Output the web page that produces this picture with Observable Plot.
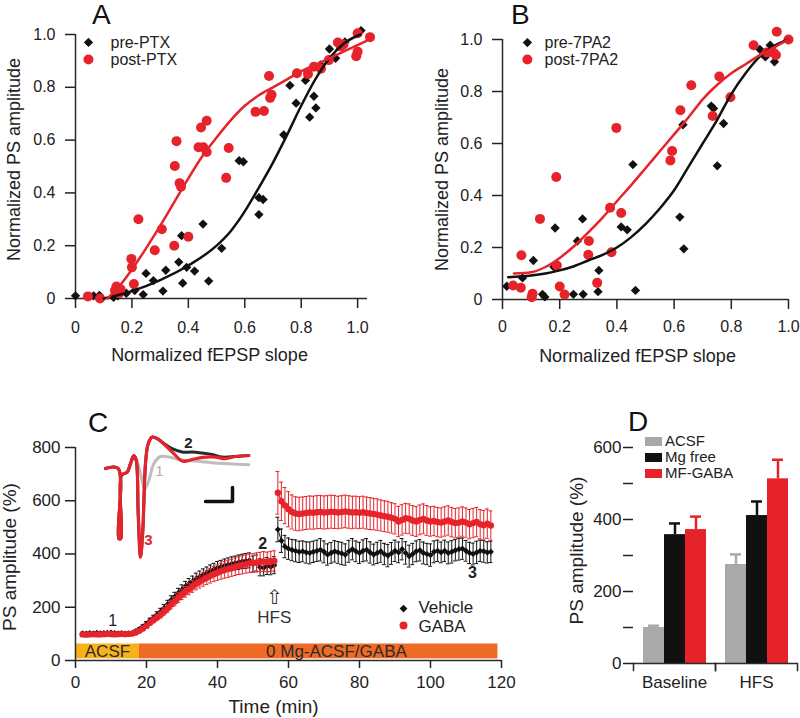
<!DOCTYPE html>
<html><head><meta charset="utf-8">
<script src="https://cdn.jsdelivr.net/npm/d3@7"></script>
<script src="https://cdn.jsdelivr.net/npm/@observablehq/plot@0.6"></script>
<style>
body{margin:0;background:#fff;}
#fig{position:relative;width:800px;height:718px;font-family:"Liberation Sans",Arial,Helvetica,sans-serif;color:#111;overflow:hidden;background:#fff}
.panel{position:absolute}
.letter{position:absolute;font-size:28px;line-height:28px;color:#111}
.leg{position:absolute;font-size:15px;line-height:14px;color:#222;white-space:nowrap}
.sw{position:absolute;width:17px;height:9px}
</style></head><body><div id="fig"></div>
<script>
const FONT = '"Liberation Sans", Arial, Helvetica, sans-serif';
const RED = "#E6232B", BLACK = "#111111", GRAY = "#A9A9A9", AX = "#2a2a2a", TXT = "#222";

// ---------- Panel A data ----------
const aPreSlope = [0.0,0.064,0.085,0.135,0.15,0.18,0.21,0.24,0.25,0.276,0.31,0.32,0.366,0.376,0.38,0.394,0.422,0.452,0.472,0.518,0.58,0.595,0.65,0.65,0.665,0.738,0.76,0.782,0.815,0.83,0.845,0.852,0.868,0.9,0.922,0.955,1.012];
const aPreAmp   = [0.01,0.01,0.012,0.004,0.01,0.02,0.03,0.015,0.095,0.068,0.028,0.107,0.138,0.238,0.058,0.118,0.104,0.282,0.066,0.19,0.522,0.518,0.318,0.382,0.375,0.62,0.807,0.74,0.826,0.687,0.766,0.722,0.885,0.945,0.91,0.972,1.015];
const aPostSlope = [0.044,0.087,0.14,0.145,0.155,0.16,0.198,0.2,0.207,0.223,0.281,0.306,0.35,0.352,0.358,0.369,0.374,0.4,0.436,0.445,0.453,0.465,0.465,0.534,0.543,0.638,0.668,0.686,0.69,0.695,0.785,0.824,0.845,0.87,0.898,0.93,0.94,0.95,0.995,1.0,1.0,1.044];
const aPostAmp   = [0.008,0.0,0.03,0.045,0.02,0.035,0.15,0.118,0.055,0.3,0.183,0.262,0.2,0.502,0.596,0.437,0.423,0.234,0.573,0.648,0.573,0.673,0.555,0.457,0.57,0.707,0.71,0.843,0.76,0.772,0.853,0.85,0.878,0.87,0.903,0.97,0.955,0.962,0.918,0.935,1.005,0.99];
const aFitPreX  = [0.1,0.2,0.3,0.4,0.5,0.55,0.6,0.65,0.7,0.75,0.8,0.85,0.9,0.95,1.01];
const aFitPreY  = [0.0,0.028,0.07,0.125,0.2,0.255,0.33,0.42,0.515,0.62,0.73,0.83,0.91,0.965,1.0];
const aFitPostX = [0.113,0.15,0.2,0.25,0.3,0.35,0.4,0.45,0.5,0.55,0.6,0.65,0.7,0.75,0.8,0.85,0.9,0.95,1.0,1.038];
const aFitPostY = [0.0,0.04,0.11,0.19,0.275,0.365,0.455,0.54,0.61,0.675,0.73,0.77,0.8,0.83,0.86,0.885,0.91,0.935,0.96,0.98];
const aLegend = ["pre-PTX","post-PTX"];

// ---------- Panel B data ----------
const bPreSlope = [0.015,0.07,0.108,0.14,0.148,0.18,0.184,0.248,0.262,0.28,0.282,0.334,0.337,0.415,0.436,0.456,0.465,0.62,0.631,0.634,0.73,0.738,0.751,0.773,0.9,0.919,0.936,0.951];
const bPreAmp   = [0.051,0.083,0.15,0.02,0.01,0.125,0.275,0.02,0.225,0.31,0.02,0.03,0.112,0.279,0.268,0.519,0.035,0.317,0.672,0.195,0.744,0.735,0.514,0.677,0.962,0.933,0.978,0.914];
const bPostSlope = [0.037,0.064,0.066,0.102,0.105,0.131,0.188,0.19,0.2,0.217,0.3,0.302,0.331,0.376,0.381,0.398,0.415,0.587,0.593,0.622,0.66,0.735,0.758,0.797,0.878,0.924,0.948,0.956,0.959,1.0];
const bPostAmp   = [0.054,0.045,0.17,0.009,0.022,0.31,0.471,0.131,0.05,0.019,0.172,0.225,0.064,0.353,0.182,0.66,0.333,0.535,0.571,0.728,0.824,0.706,0.858,0.778,0.978,0.95,0.949,0.94,1.03,1.0];
const bFitPreX  = [0.02,0.1,0.15,0.2,0.25,0.3,0.35,0.4,0.45,0.5,0.55,0.6,0.65,0.7,0.75,0.8,0.85,0.9,0.95,1.0];
const bFitPreY  = [0.086,0.092,0.1,0.112,0.128,0.15,0.172,0.2,0.24,0.29,0.35,0.42,0.51,0.6,0.69,0.79,0.87,0.935,0.975,1.0];
const bFitPostX = [0.04,0.1,0.15,0.2,0.25,0.3,0.35,0.4,0.45,0.5,0.55,0.6,0.65,0.7,0.75,0.8,0.85,0.9,0.95,1.0];
const bFitPostY = [0.1,0.105,0.125,0.16,0.205,0.258,0.315,0.378,0.44,0.505,0.57,0.635,0.7,0.77,0.825,0.87,0.905,0.94,0.97,1.0];
const bLegend = ["pre-7PA2","post-7PA2"];

const normTicks = [0,0.2,0.4,0.6,0.8,1.0];

// ---------- Panel C data ----------
const cTimePre = [2,3,4,5,6,7,8,9,10,11,12,13,14,15,16,17,18,19,20,21,22,23,24,25,26,27,28,29,30,31,32,33,34,35,36,37,38,39,40,41,42,43,44,45,46,47,48,49,50,51,52,53,54,55,56];
const cVehPre = [102,101,103,102,104,102,103,104,105,103, 102,103,101,102,103,110,118,127,138,150, 160,172,184,197,212,228,240,254,266,278, 288,297,307,315,322,329,336,342,348,352, 356,360,363,366,369,372,374,376,362,366, 350,348,355,352,358];
const cVehPreErr = [4,4,4,4,4,4,4,4,4,4, 4,4,4,4,4,5,6,7,8,9, 10,11,12,13,14,15,16,17,18,19, 20,20,21,21,22,22,23,23,24,24, 25,25,26,26,27,27,28,28,30,30, 32,30,32,30,32];
const cGabaPre = [98,97,98,99,98,98,99,100,99,98, 99,100,99,100,101,105,112,120,130,142, 152,162,172,184,196,210,222,236,248,258, 268,278,288,296,304,311,318,324,330,335, 340,344,348,352,356,359,362,365,366,368, 370,372,370,372,374];
const cGabaPreErr = [5,5,5,5,5,5,5,5,5,5, 5,5,5,5,5,6,7,8,9,10, 11,12,13,14,15,16,17,18,19,20, 21,22,23,24,25,26,27,28,29,30, 31,32,32,33,33,34,34,35,35,36, 36,37,37,38,38];
const cTimePost = [57,58,59,60,61,62,63,64,65,66,67,68,69,70,71,72,73,74,75,76,77,78,79,80,81,82,83,84,85,86,87,88,89,90,91,92,93,94,95,96,97,98,99,100,101,102,103,104,105,106,107,108,109,110,111,112,113,114,115,116,117];
const cVehPost = [492,450,428,420,415,412,408,410,406,404, 408,412,416,408,398,404,410,406,402,398, 410,418,410,404,412,416,406,398,404,410, 400,394,402,412,406,418,404,392,400,410, 414,404,400,396,408,412,406,412,404,408, 414,418,420,412,404,400,406,412,410,406, 408];
const cVehPostErr = [46,44,42,40,40,41,40,39,40,41, 40,40,42,41,40,39,40,41,42,40, 41,40,39,40,41,42,40,39,40,41, 40,42,41,40,39,40,42,41,40,39, 40,41,40,42,41,40,39,40,41,42, 40,41,40,39,40,41,42,40,41,40, 40];
const cGabaPost = [630,598,582,568,558,552,550,552,554,556, 555,557,558,556,557,559,558,556,558,560, 558,556,557,555,557,554,552,550,548,545, 542,540,536,532,522,528,534,532,526,522, 528,532,526,522,524,520,518,522,526,520, 516,518,522,518,512,516,520,512,508,514, 507];
const cGabaPostErr = [80,72,68,66,64,63,63,62,62,62, 62,62,62,62,62,62,62,61,61,61, 61,61,60,60,60,60,60,59,59,58, 58,58,57,57,57,57,56,56,56,56, 56,56,56,55,55,55,55,55,55,55, 55,55,55,55,55,55,55,55,55,55, 55];
const cProtocolStart = [0, 18];
const cProtocolEnd = [18, 119];
const cProtocolLabel = ["ACSF", "0 Mg-ACSF/GABA"];
const cProtocolLabelT = [9, 73.5];
const cProtocolColor = ["#F7B21B", "#EE6A25"];
const cLegend = ["Vehicle", "GABA"];

// inset traces (time ms, voltage mV)
const trT1 = [0,1.27,1.33,1.53,1.6,2.17,2.5,2.83,3.0,3.5,3.93,4.33,4.83,5.5,6.33,7.67,9.0,10.67,12.33,14.33];
const trV1 = [0,0,-3.5,-3.5,-0.35,-0.18,0.24,0.6,0.57,-0.25,-1.02,-0.6,0.24,0.6,0.57,0.43,0.37,0.29,0.24,0.19];
const trT2 = [0,1.27,1.33,1.53,1.6,2.17,2.5,2.83,3.07,3.27,3.5,3.73,4.0,4.27,4.67,5.17,6.0,6.67,7.67,8.67,9.67,10.67,11.67,13.0,14.33];
const trV2 = [0,0,-3.5,-3.5,-0.35,-0.18,0.24,0.65,0.4,-2.25,-4.43,-3.1,0.24,1.24,1.57,1.49,1.2,0.99,0.82,0.82,0.77,0.7,0.57,0.6,0.65];
const trT3 = [0,1.27,1.33,1.53,1.6,2.17,2.5,2.83,3.07,3.27,3.5,3.73,4.0,4.27,4.67,5.17,6.0,6.83,7.67,8.33,9.0,10.0,11.0,12.0,13.0,14.33];
const trV3 = [0,0,-3.5,-3.5,-0.35,-0.18,0.24,0.65,0.4,-2.25,-4.43,-3.1,0.24,1.24,1.57,1.49,1.15,0.74,0.37,0.4,0.49,0.57,0.57,0.49,0.6,0.65];
const scaleBarT = [10.0, 12.7, 12.7];
const scaleBarV = [-1.65, -1.65, -0.95];

// ---------- Panel D data ----------
const dGroups = ["Baseline", "HFS"];
const dSeries = ["ACSF", "Mg free", "MF-GABA"];
const dColors = [GRAY, BLACK, RED];
const dBaseline = [100, 358, 372];
const dBaselineErr = [5, 31, 36];
const dHFS = [275, 411, 513];
const dHFSErr = [28, 39, 53];

// ---------- helpers ----------
const zip = (xs, ys) => xs.map((x, i) => ({x, y: ys[i]}));
const series = (ts, vs, es) => ts.map((t, i) => ({t, v: vs[i], e: es[i]}));
const root = document.getElementById("fig");
function place(node, left, top) {
  const d = document.createElement("div");
  d.className = "panel"; d.style.left = left + "px"; d.style.top = top + "px";
  d.appendChild(node); root.appendChild(d); return d;
}
function html(cls, text, left, top, extra) {
  const d = document.createElement("div");
  d.className = cls; d.textContent = text;
  d.style.left = left + "px"; d.style.top = top + "px";
  if (extra) Object.assign(d.style, extra);
  root.appendChild(d);
}
const baseStyle = {fontFamily: FONT, background: "transparent", overflow: "visible", color: TXT};
const yTitle = (s, dx, dy, size) => Plot.text([s], {frameAnchor: "left", textAnchor: "middle", lineAnchor: "middle", rotate: -90, dx, dy, fontSize: size, fill: TXT});
const xTitle = (s, dx, dy, size) => Plot.text([s], {frameAnchor: "bottom", textAnchor: "middle", lineAnchor: "middle", dx, dy, fontSize: size, fill: TXT});

function scatterPanel(o) {
  return Plot.plot({
    width: 400, height: 370,
    marginLeft: o.ml, marginRight: o.mr, marginTop: o.mt, marginBottom: o.mb,
    style: baseStyle,
    x: {domain: [0, o.xMax], label: null},
    y: {domain: [0, 1], label: null},
    marks: [
      Plot.ruleX([0], {y1: 0, y2: 1, stroke: AX, strokeWidth: 1.5}),
      Plot.ruleY([0], {x1: 0, x2: o.xMax, stroke: AX, strokeWidth: 1.5}),
      Plot.axisX({ticks: normTicks, tickFormat: d => d === 0 ? "0" : d.toFixed(1), tickSize: 10, tickPadding: o.xPad, fontSize: 16, color: TXT, strokeWidth: 1.5, label: null}),
      Plot.axisY({ticks: normTicks, tickFormat: d => d === 0 ? "0" : d.toFixed(1), tickSize: 10, tickPadding: 10, fontSize: 16, color: TXT, strokeWidth: 1.5, label: null}),
      yTitle("Normalized PS amplitude", o.ytDx, o.ytDy, 18),
      xTitle("Normalized fEPSP slope", o.xtDx, o.xtDy, 18),
      Plot.dot(o.pre, {x: "x", y: "y", symbol: "diamond2", r: 4.2, fill: BLACK}),
      Plot.dot(o.post, {x: "x", y: "y", r: 5, fill: RED}),
      Plot.line(o.fitPre, {x: "x", y: "y", curve: "monotone-x", stroke: BLACK, strokeWidth: 2.5}),
      Plot.line(o.fitPost, {x: "x", y: "y", curve: "monotone-x", stroke: RED, strokeWidth: 2.5}),
      Plot.dot([{x: o.legX, y: o.legY[0]}], {x: "x", y: "y", symbol: "diamond2", r: 4.2, fill: BLACK}),
      Plot.dot([{x: o.legX, y: o.legY[1]}], {x: "x", y: "y", r: 5, fill: RED}),
      Plot.text(o.legend.map((s, i) => ({s, x: o.legTX, y: o.legY[i]})), {x: "x", y: "y", text: "s", textAnchor: "start", fontSize: 16, fill: TXT})
    ]
  });
}

// Panel A
place(scatterPanel({
  xMax: 1.035, ml: 75, mr: 33, mt: 34, mb: 72, xPad: 13,
  ytDx: -61, ytDy: -7, xtDx: -12, xtDy: 57,
  pre: zip(aPreSlope, aPreAmp), post: zip(aPostSlope, aPostAmp),
  fitPre: zip(aFitPreX, aFitPreY), fitPost: zip(aFitPostX, aFitPostY),
  legend: aLegend, legX: 0.046, legY: [0.97, 0.905], legTX: 0.124
}), 0, 0);

// Panel B
place(scatterPanel({
  xMax: 1.0, ml: 102, mr: 12, mt: 39, mb: 71, xPad: 11,
  ytDx: -60, ytDy: 0, xtDx: -8, xtDy: 57,
  pre: zip(bPreSlope, bPreAmp), post: zip(bPostSlope, bPostAmp),
  fitPre: zip(bFitPreX, bFitPreY), fitPost: zip(bFitPostX, bFitPostY),
  legend: bLegend, legX: 0.087, legY: [0.988, 0.923], legTX: 0.147
}), 400, 0);

// Panel C
const vehPre = series(cTimePre, cVehPre, cVehPreErr);
const vehPost = series(cTimePost, cVehPost, cVehPostErr);
const gabaPre = series(cTimePre, cGabaPre, cGabaPreErr);
const gabaPost = series(cTimePost, cGabaPost, cGabaPostErr);
const protocol = cProtocolStart.map((s, i) => ({s, e: cProtocolEnd[i], label: cProtocolLabel[i], lt: cProtocolLabelT[i], color: cProtocolColor[i]}));
function errMarks(data, color, sw) {
  return [
    Plot.ruleX(data, {x: "t", y1: d => d.v - d.e, y2: d => d.v + d.e, stroke: color, strokeWidth: sw}),
    Plot.ruleY(data, {y: d => d.v + d.e, x1: d => d.t - 0.55, x2: d => d.t + 0.55, stroke: color, strokeWidth: sw}),
    Plot.ruleY(data, {y: d => d.v - d.e, x1: d => d.t - 0.55, x2: d => d.t + 0.55, stroke: color, strokeWidth: sw})
  ];
}
place(Plot.plot({
  width: 520, height: 338, marginLeft: 75, marginRight: 19, marginTop: 67, marginBottom: 58,
  style: baseStyle,
  x: {domain: [0, 120], label: null},
  y: {domain: [0, 800], label: null},
  color: {type: "identity"},
  marks: [
    Plot.rect(protocol, {x1: "s", x2: "e", y1: 6, y2: 62, fill: "color"}),
    Plot.text(protocol, {x: "lt", y: 33, text: "label", fontSize: 17, fill: "#2a2a2a"}),
    Plot.ruleX([0], {y1: 0, y2: 800, stroke: AX, strokeWidth: 1.5}),
    Plot.ruleY([0], {x1: 0, x2: 120, stroke: AX, strokeWidth: 1.5}),
    Plot.axisX({ticks: [0,20,40,60,80,100,120], tickSize: 8, tickPadding: 7, fontSize: 17, color: TXT, strokeWidth: 1.5, label: null}),
    Plot.axisY({ticks: [0,200,400,600,800], tickSize: 10, tickPadding: 5, fontSize: 17, color: TXT, strokeWidth: 1.5, label: null}),
    yTitle("PS amplitude (%)", -66, 3, 19),
    xTitle("Time (min)", -15, 46, 19),
    ...errMarks(vehPre, BLACK, 1), ...errMarks(vehPost, BLACK, 1),
    Plot.line(vehPre, {x: "t", y: "v", stroke: BLACK, strokeWidth: 1}),
    Plot.line(vehPost, {x: "t", y: "v", stroke: BLACK, strokeWidth: 1}),
    Plot.dot(vehPre.concat(vehPost), {x: "t", y: "v", symbol: "diamond2", r: 2.8, fill: BLACK}),
    ...errMarks(gabaPre, RED, 1), ...errMarks(gabaPost, RED, 1),
    Plot.line(gabaPre, {x: "t", y: "v", stroke: RED, strokeWidth: 1.5}),
    Plot.line(gabaPost, {x: "t", y: "v", stroke: RED, strokeWidth: 1.5}),
    Plot.dot(gabaPre.concat(gabaPost), {x: "t", y: "v", r: 3.2, fill: RED}),
    Plot.text([{t: 10.5, v: 150, s: "1"}], {x: "t", y: "v", text: "s", fontSize: 16, fill: TXT}),
    Plot.text([{t: 52.7, v: 439, s: "2"}, {t: 111.8, v: 330, s: "3"}], {x: "t", y: "v", text: "s", fontSize: 16, fontWeight: "bold", fill: TXT}),
    Plot.text([{t: 56, v: 235, s: "\u21E7"}], {x: "t", y: "v", text: "s", fontSize: 20, fontFamily: "DejaVu Sans", fill: "#333"}),
    Plot.text([{t: 56, v: 160, s: "HFS"}], {x: "t", y: "v", text: "s", fontSize: 17, fill: "#333"}),
    Plot.dot([{t: 92.4, v: 195}], {x: "t", y: "v", symbol: "diamond2", r: 3.5, fill: BLACK}),
    Plot.dot([{t: 92.4, v: 131}], {x: "t", y: "v", r: 4, fill: RED}),
    Plot.text(cLegend.map((s, i) => ({s, t: 96.6, v: [198, 128][i]})), {x: "t", y: "v", text: "s", textAnchor: "start", fontSize: 17, fill: TXT})
  ]
}), 0, 380);

// Inset traces overlay
place(Plot.plot({
  width: 520, height: 338, marginLeft: 105, marginRight: 265, marginTop: 48, marginBottom: 150,
  style: baseStyle,
  x: {domain: [0, 15], axis: null},
  y: {domain: [-5, 2], axis: null},
  marks: [
    Plot.line(zip(trT1, trV1), {x: "x", y: "y", stroke: "#BDBDBD", strokeWidth: 3, curve: "catmull-rom"}),
    Plot.line(zip(trT2, trV2), {x: "x", y: "y", stroke: "#2a2a2a", strokeWidth: 3, curve: "catmull-rom"}),
    Plot.line(zip(trT3, trV3), {x: "x", y: "y", stroke: RED, strokeWidth: 3.2, curve: "catmull-rom"}),
    Plot.line(zip(scaleBarT, scaleBarV), {x: "x", y: "y", stroke: "#111", strokeWidth: 3.5}),
    Plot.text([{x: 8.3, y: 1.25, s: "2"}], {x: "x", y: "y", text: "s", fontSize: 15, fontWeight: "bold", fill: "#222"}),
    Plot.text([{x: 5.4, y: -0.15, s: "1"}], {x: "x", y: "y", text: "s", fontSize: 15, fill: "#B0B0B0"}),
    Plot.text([{x: 4.3, y: -3.6, s: "3"}], {x: "x", y: "y", text: "s", fontSize: 15, fontWeight: "bold", fill: RED})
  ]
}), 0, 380).style.pointerEvents = "none";

// Panel D
const dData = [];
dGroups.forEach((g, gi) => dSeries.forEach((s, si) => dData.push({
  group: g, series: s, color: dColors[si],
  value: gi === 0 ? dBaseline[si] : dHFS[si],
  err: gi === 0 ? dBaselineErr[si] : dHFSErr[si]
})));
place(Plot.plot({
  width: 280, height: 338, marginLeft: 112, marginRight: 3, marginTop: 67, marginBottom: 55,
  style: baseStyle,
  fx: {domain: dGroups, padding: 0, axis: null, label: null},
  x: {domain: dSeries, paddingInner: 0, paddingOuter: 0.37, axis: null, label: null},
  y: {domain: [0, 600], label: null},
  color: {type: "identity"},
  marks: [
    Plot.ruleX(dData, {fx: "group", x: "series", y1: "value", y2: d => d.value + d.err, stroke: "color", strokeWidth: 2.5}),
    Plot.tickY(dData, {fx: "group", x: "series", y: d => d.value + d.err, stroke: "color", strokeWidth: 2.5, insetLeft: 5, insetRight: 5}),
    Plot.barY(dData, {fx: "group", x: "series", y: "value", fill: "color"}),
    Plot.ruleY([0], {stroke: AX, strokeWidth: 1.5}),
    Plot.frame({anchor: "left", stroke: AX, strokeWidth: 1.5, insetTop: 216, insetBottom: -7}),
    Plot.frame({anchor: "right", stroke: AX, strokeWidth: 1.5, insetTop: 216, insetBottom: -7}),
    Plot.axisY({ticks: [0,100,200,300,400,500,600], tickFormat: d => d % 200 === 0 ? String(d) : "", tickSize: 10, tickPadding: 2, fontSize: 17, color: TXT, strokeWidth: 1.5, line: true, label: null}),
    Plot.axisFx({anchor: "bottom", tickSize: 0, tickPadding: 12, fontSize: 17, color: TXT, label: null}),
    Plot.text(["PS amplitude (%)"], {frameAnchor: "left", textAnchor: "middle", lineAnchor: "middle", rotate: -90, dx: -57, dy: -5, fontSize: 19, fill: TXT, facetAnchor: "left"})
  ]
}), 520, 380);

// Panel D legend
dSeries.forEach((s, i) => {
  const yc = [441, 457, 473][i];
  html("sw", "", 645, yc - 4.5, {background: dColors[i]});
  html("leg", s, 665, yc - 7);
});

// Panel letters
html("letter", "A", 92, 1);
html("letter", "B", 511, 1);
html("letter", "C", 88, 409);
html("letter", "D", 628, 408);
</script></body></html>
